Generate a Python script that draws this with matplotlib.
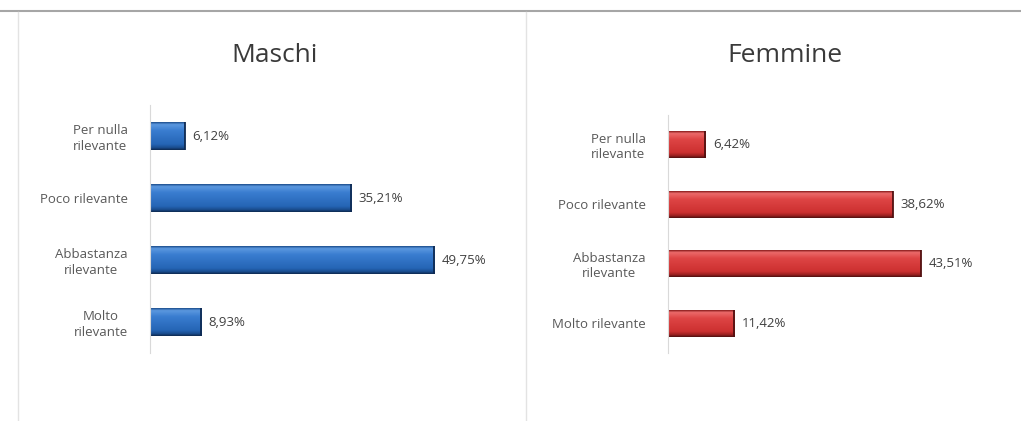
import numpy as np
import matplotlib.pyplot as plt
from matplotlib.lines import Line2D
from matplotlib.colors import LinearSegmentedColormap

plt.rcParams['font.family'] = ['Open Sans', 'DejaVu Sans']

categorie_m = ['Per nulla\nrilevante', 'Poco rilevante', 'Abbastanza\nrilevante', 'Molto\nrilevante']
valori_m = [6.12, 35.21, 49.75, 8.93]
categorie_f = ['Per nulla\nrilevante', 'Poco rilevante', 'Abbastanza\nrilevante', 'Molto rilevante']
valori_f = [6.42, 38.62, 43.51, 11.42]

W, H = 1021, 421


def px_axes(fig, x0, y0, x1, y1):
    # axes placed by pixel box (top-left origin)
    return fig.add_axes([x0 / W, 1 - y1 / H, (x1 - x0) / W, (y1 - y0) / H])


def gradient_bars(ax, cats, vals, stops, edge):
    # vertical shading top -> bottom, clipped to each bar
    cmap = LinearSegmentedColormap.from_list('g', stops)
    grad = np.linspace(0, 1, 64)[:, None]
    bars = ax.barh(range(len(cats)), vals, height=0.45, color='none',
                   edgecolor='none')
    for b in bars:
        x, y = b.get_x(), b.get_y()
        w, h = b.get_width(), b.get_height()
        im = ax.imshow(grad, cmap=cmap, aspect='auto', interpolation='bilinear',
                       extent=(x, x + w, y + h, y), zorder=2)
        im.set_clip_path(b)
        ax.plot([x + w, x + w], [y, y + h], color=edge, lw=1.3, zorder=3,
                solid_capstyle='butt')
    return bars


def panel(fig, box, cats, vals, xmax, title, title_x, stops, edge):
    ax = px_axes(fig, *box)
    gradient_bars(ax, cats, vals, stops, edge)
    ax.set_xlim(0, xmax)
    ax.set_ylim(len(cats) - 0.5, -0.5)
    for s in ['top', 'right', 'bottom']:
        ax.spines[s].set_visible(False)
    ax.spines['left'].set_color('#d9d9d9')
    ax.set_xticks([])
    ax.set_yticks(range(len(cats)))
    ax.set_yticklabels(cats, fontsize=9.5, color='#595959', multialignment='center')
    ax.tick_params(axis='y', length=0, pad=16)
    for i, v in enumerate(vals):
        ax.text(v + xmax * 0.025, i, f'{v:.2f}%'.replace('.', ','), va='center',
                ha='left', fontsize=9.5, color='#404040')
    fig.text(title_x / W, 1 - 55 / H, title, ha='center', va='center',
             fontsize=19, color='#3a3a3a')
    ax.set_facecolor('none')
    return ax


fig = plt.figure(figsize=(W / 100, H / 100), dpi=100)

blue = [(0.0, '#1d4f8e'), (0.08, '#5b98df'), (0.3, '#3a7dd0'),
        (0.8, '#2565b5'), (0.92, '#1a4d8f'), (1.0, '#0e2a52')]
red = [(0.0, '#8a1d1d'), (0.08, '#ec6a6a'), (0.3, '#de4545'),
       (0.8, '#cc3030'), (0.92, '#9a2020'), (1.0, '#521010')]

panel(fig, (150, 105, 450, 353), categorie_m, valori_m, 52.5, 'Maschi', 275,
      blue, '#0e2a52')
panel(fig, (668, 115, 968, 353), categorie_f, valori_f, 51.6, 'Femmine', 785,
      red, '#521010')

# frame lines
fig.add_artist(Line2D([0, 1], [1 - 11 / H, 1 - 11 / H], color='#a6a6a6', lw=1.5))
fig.add_artist(Line2D([18 / W, 18 / W], [0, 1 - 12 / H], color='#e3e3e3', lw=1))
fig.add_artist(Line2D([526 / W, 526 / W], [0, 1 - 12 / H], color='#e3e3e3', lw=1))

fig.savefig('out.png', dpi=100)
